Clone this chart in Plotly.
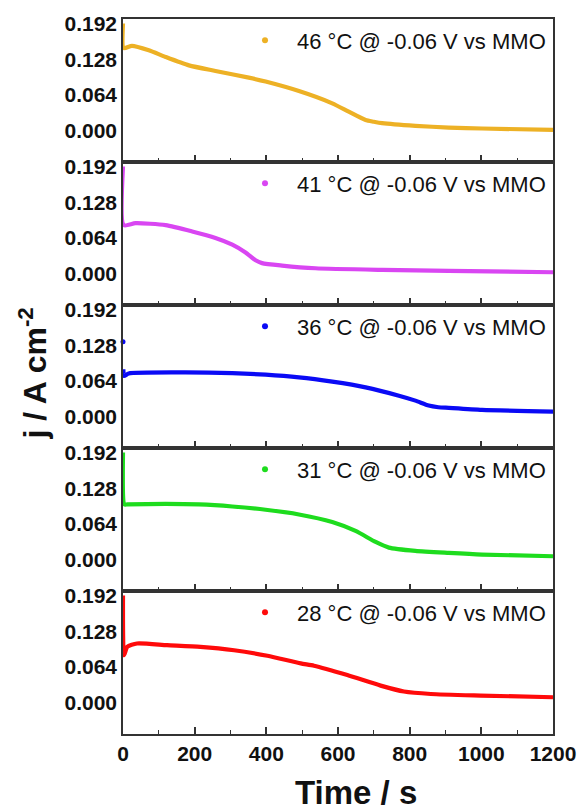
import plotly.graph_objects as go
from plotly.subplots import make_subplots

# ---- data ----
labels = ["46 °C @ -0.06 V vs MMO", "41 °C @ -0.06 V vs MMO", "36 °C @ -0.06 V vs MMO",
          "31 °C @ -0.06 V vs MMO", "28 °C @ -0.06 V vs MMO"]
colors = ["#EDB125", "#D946F2", "#0A0AF5", "#1EDC1E", "#FF0A0A"]

t46 = [0, 2, 25, 72, 119, 184, 258, 351, 398, 491, 584, 630, 677, 700, 723, 816, 909, 1002, 1200]
j46 = [0.192, 0.148, 0.152, 0.144, 0.132, 0.117, 0.107, 0.095, 0.088, 0.071, 0.049, 0.034, 0.019,
       0.016, 0.0135, 0.0087, 0.0057, 0.004, 0.0015]

t41 = [0, 2, 35, 119, 193, 258, 305, 342, 370, 388, 444, 537, 723, 909, 1200]
j41 = [0.192, 0.087, 0.0905, 0.087, 0.0757, 0.064, 0.052, 0.038, 0.024, 0.019, 0.0146, 0.0098,
       0.0069, 0.0051, 0.0026]

# first 36 °C reading is an isolated point, drawn as a dot
t36 = [0, 1, 3, 16, 165, 305, 398, 491, 584, 677, 770, 816, 853, 880, 909, 1002, 1200]
j36 = [0.134, 0.085, 0.073, 0.0775, 0.0793, 0.078, 0.0752, 0.0704, 0.0627, 0.0526, 0.0377, 0.0288,
       0.020, 0.017, 0.0158, 0.0122, 0.0092]

t31 = [0, 4, 12, 119, 212, 305, 398, 491, 584, 649, 705, 742, 816, 909, 1002, 1200]
j31 = [0.192, 0.099, 0.099, 0.100, 0.099, 0.0953, 0.0895, 0.081, 0.0675, 0.0515, 0.0318, 0.0217,
       0.0158, 0.0122, 0.0092, 0.0062]

t28 = [0, 3, 12, 39, 123, 216, 310, 403, 496, 533, 626, 719, 784, 859, 998, 1200]
j28 = [0.192, 0.085, 0.100, 0.106, 0.103, 0.100, 0.094, 0.084, 0.0704, 0.0663, 0.0495, 0.0306,
       0.020, 0.0156, 0.0128, 0.0098]

series_t = [t46, t41, t36, t31, t28]
series_j = [j46, j41, j36, j31, j28]
isolated_first = [False, False, True, False, False]

y_ticks = [0.0, 0.064, 0.128, 0.192]
x_ticks = [0, 200, 400, 600, 800, 1000, 1200]

# ---- figure ----
W, H = 577, 812
ML, MR, MT, MB = 122.5, 24.3, 18.7, 77.7
PW, PH = W - ML - MR, H - MT - MB

fig = make_subplots(rows=5, cols=1, shared_xaxes=True, vertical_spacing=0)

font_family = "Liberation Sans, Arial, sans-serif"
for i in range(5):
    ts, js = series_t[i], series_j[i]
    if isolated_first[i]:
        fig.add_trace(go.Scatter(x=ts[:1], y=js[:1], mode="markers",
                                 marker=dict(color=colors[i], size=5), cliponaxis=False,
                                 showlegend=False, hoverinfo="skip"), row=i + 1, col=1)
        ts, js = ts[1:], js[1:]
    fig.add_trace(go.Scatter(x=ts, y=js, mode="lines",
                             line=dict(color=colors[i], width=4.2, shape="spline", smoothing=0.6),
                             showlegend=False, hoverinfo="skip"), row=i + 1, col=1)
    lg = "legend" if i == 0 else f"legend{i + 1}"
    fig.add_trace(go.Scatter(x=[None], y=[None], mode="markers",
                             marker=dict(color=colors[i], size=6),
                             name=labels[i], legend=lg, showlegend=True), row=i + 1, col=1)
    panel_top = MT + PH / 5 * i
    yc = panel_top + 21.5
    legend_cfg = dict(x=(552.7 - 2 - ML) / PW, xanchor="right",
                      y=(H - MB - yc) / PH, yanchor="middle",
                      bgcolor="rgba(0,0,0,0)", borderwidth=0, itemwidth=54,
                      font=dict(family=font_family, size=22, color="#111"))
    fig.update_layout({lg: legend_cfg})

for i in range(5):
    fig.update_xaxes(range=[0, 1200], tickvals=x_ticks, ticks="inside", ticklen=7, tickwidth=1.5,
                     tickcolor="#333", showline=True, linecolor="#333", linewidth=1.5, mirror=True,
                     showgrid=False, zeroline=False, automargin=False,
                     minor=dict(ticks="inside", ticklen=4, dtick=100, tick0=0, tickwidth=1.3,
                                tickcolor="#333", showgrid=False),
                     showticklabels=(i == 4),
                     tickfont=dict(family=font_family, size=21, color="#111", weight="bold"),
                     row=i + 1, col=1)
    fig.update_yaxes(range=[-0.056, 0.200], tickvals=y_ticks, tickformat=".3f", ticks="",
                     showline=True, linecolor="#333", linewidth=1.5, mirror=True,
                     showgrid=False, zeroline=False, automargin=False,
                     tickfont=dict(family=font_family, size=21, color="#111", weight="bold"),
                     row=i + 1, col=1)

fig.add_annotation(text="<b>Time / s</b>", xref="paper", yref="paper",
                   x=(356 - ML) / PW, y=(H - MB - 793) / PH, xanchor="center", yanchor="middle",
                   showarrow=False, font=dict(family=font_family, size=33, color="#111"))
fig.add_annotation(text="<b>j / A cm<sup>-2</sup></b>", xref="paper", yref="paper",
                   x=(32 - ML) / PW, y=(H - MB - 374) / PH, xanchor="center", yanchor="middle",
                   textangle=-90, showarrow=False,
                   font=dict(family=font_family, size=32, color="#111"))

fig.update_layout(width=W, height=H, margin=dict(l=ML, r=MR, t=MT, b=MB),
                  paper_bgcolor="white", plot_bgcolor="white",
                  font=dict(family=font_family, color="#111"))

fig.write_html("out.html")
